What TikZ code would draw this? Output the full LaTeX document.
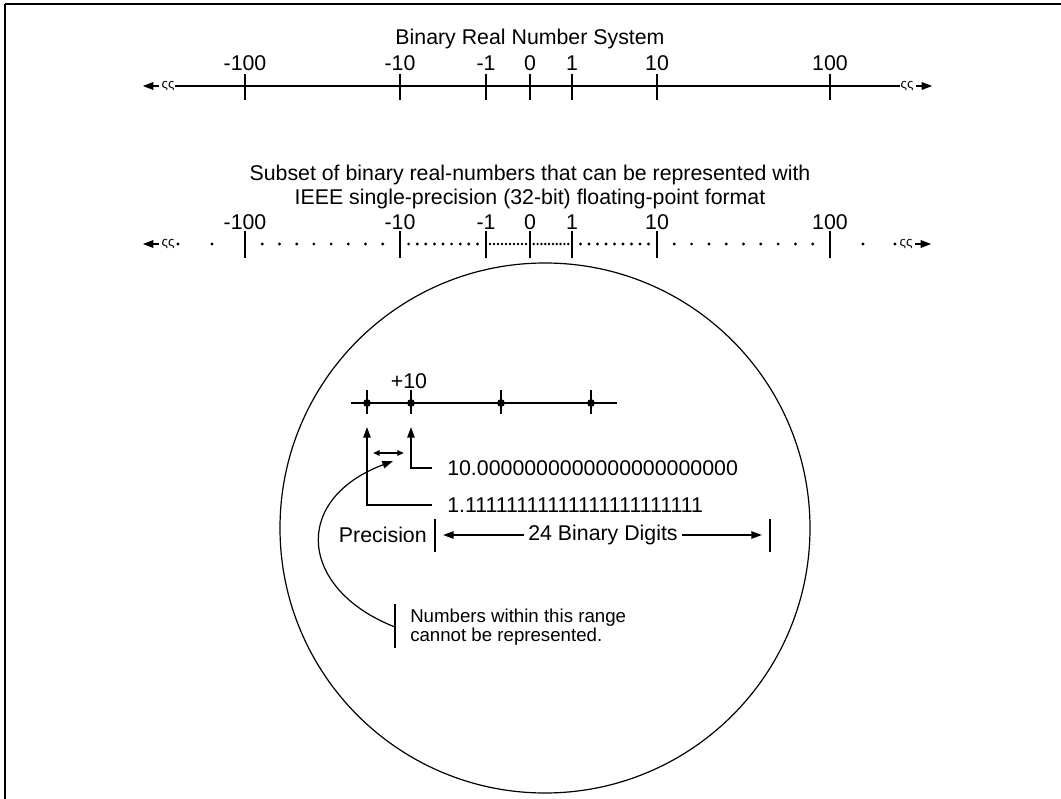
\documentclass[tikz,border=0pt]{standalone}
\usepackage{fontspec}
\setmainfont{Liberation Sans}
\usetikzlibrary{arrows.meta,calc,positioning}
\tikzset{
  lbl/.style={font=\fontsize{16}{18}\selectfont, inner sep=0pt},
  note/.style={font=\fontsize{14}{14.5}\selectfont, inner sep=0pt, align=left},
  brk/.style={font=\fontsize{10}{10}\selectfont, inner sep=0pt},
  tick/.style={line width=1.6pt},
  tip/.style={-{Triangle[length=8pt,width=5.5pt]}},
  twotip/.style={{Triangle[length=5pt,width=4pt]}-{Triangle[length=5pt,width=4pt]}},
}

\begin{document}
\begin{tikzpicture}[x=0.75pt,y=-0.75pt]
  \useasboundingbox (0,0) rectangle (1061,799);
  % frame
  \draw[line width=2.2pt] (5,4) -- (1061,4);
  \draw[line width=1.2pt] (5,4) -- (5,799);

  % the binary real number line
  \node[lbl] (title) at (530,39) {Binary Real Number System};
  \node[brk] (brkL) at (168,86) {ςς};
  \node[brk] (brkR) at (907,86) {ςς};
  \draw[line width=1.5pt] (brkL.east) -- (brkR.west);
  \draw[tip, line width=1.5pt] ([xshift=-2pt]brkL.west) -- ++(-12pt,0);
  \draw[tip, line width=1.5pt] ([xshift=2pt]brkR.east) -- ++(12pt,0);
  \foreach \x/\t in {245/-100, 400/-10, 486/-1, 530/0, 572/1, 657/10, 830/100} {
    \draw[tick] (\x,74) -- (\x,100);
    \node[lbl] at (\x,63) {\t};
  }

  % the single-precision subset
  \node[lbl, align=center] (subset) at (530,187)
    {Subset of binary real-numbers that can be represented with\\IEEE single-precision (32-bit) floating-point format};
  \node[brk] (sbrkL) at (168,244) {ςς};
  \node[brk] (sbrkR) at (906,244) {ςς};
  \draw[tip, line width=1.5pt] ([xshift=-2pt]sbrkL.west) -- ++(-12pt,0);
  \draw[tip, line width=1.5pt] ([xshift=2pt]sbrkR.east) -- ++(12pt,0);
  \foreach \x/\t in {245/-100, 400/-10, 486/-1, 530/0, 572/1, 657/10, 830/100} {
    \draw[tick] (\x,231) -- (\x,258);
    \node[lbl] at (\x,222) {\t};
  }
  \foreach \x in {178,212,863,895} \fill (\x,244) circle (1.6);
  \foreach \a/\b/\n in {245/400/8, 400/486/9, 572/657/9, 657/830/9} {
    \foreach \k in {1,...,\n} \fill ({\a+(\b-\a)*\k/(\n+1)},244) circle (1.6);
  }
  \foreach \a/\b/\n in {486/530/10, 530/572/10} {
    \foreach \k in {1,...,\n} \fill ({\a+(\b-\a)*\k/(\n+1)},244) circle (1.35);
  }

  % magnified view
  \draw[line width=0.9pt] (545,528) circle (265);
  \node[lbl] (plusten) at (409,381) {+10};
  \draw[line width=1.3pt] (351,403) -- (617,403);
  \foreach \x [count=\i] in {367,411,501,591} {
    \coordinate (d\i) at (\x,403);
    \draw[line width=1.3pt] (\x,390) -- (\x,414);
    \fill (d\i) circle (3.9);
  }
  \node[lbl, anchor=west] (ten) at (447,468) {10.0000000000000000000000};
  \node[lbl, anchor=west] (one) at (447,505) {1.11111111111111111111111};
  \draw[tip, line width=1.3pt] ([xshift=-11pt]ten.west) -| ([yshift=-18pt]d2);
  \draw[tip, line width=1.3pt] ([xshift=-11pt]one.west) -| ([yshift=-18pt]d1);
  \coordinate (gapL) at (373,453);
  \coordinate (gapR) at (404,453);
  \draw[twotip, line width=1.3pt] (gapL) -- (gapR);

  \node[lbl, anchor=east] (prec) at (427,535) {Precision};
  \coordinate (barL) at (435,535);
  \coordinate (barR) at (770,535);
  \draw[tick] ([yshift=12pt]barL) -- ([yshift=-13pt]barL);
  \draw[tick] ([yshift=12pt]barR) -- ([yshift=-13pt]barR);
  \node[lbl] (digits) at (603,535) {24 Binary Digits};
  \draw[tip, line width=1.3pt] ([xshift=-3pt]digits.west) -- ([xshift=6pt]barL);
  \draw[tip, line width=1.3pt] ([xshift=3pt]digits.east) -- ([xshift=-6pt]barR);

  \node[note, anchor=west] (range) at (410,627) {Numbers within this range\\cannot be represented.};
  \coordinate (nb) at (395,627);
  \draw[line width=1.3pt] ([yshift=17pt]nb) -- ([yshift=-16pt]nb);
  \draw[tip, line width=0.9pt] (nb) .. controls (300,590) and (290,500) .. (393,461);
\end{tikzpicture}
\end{document}
